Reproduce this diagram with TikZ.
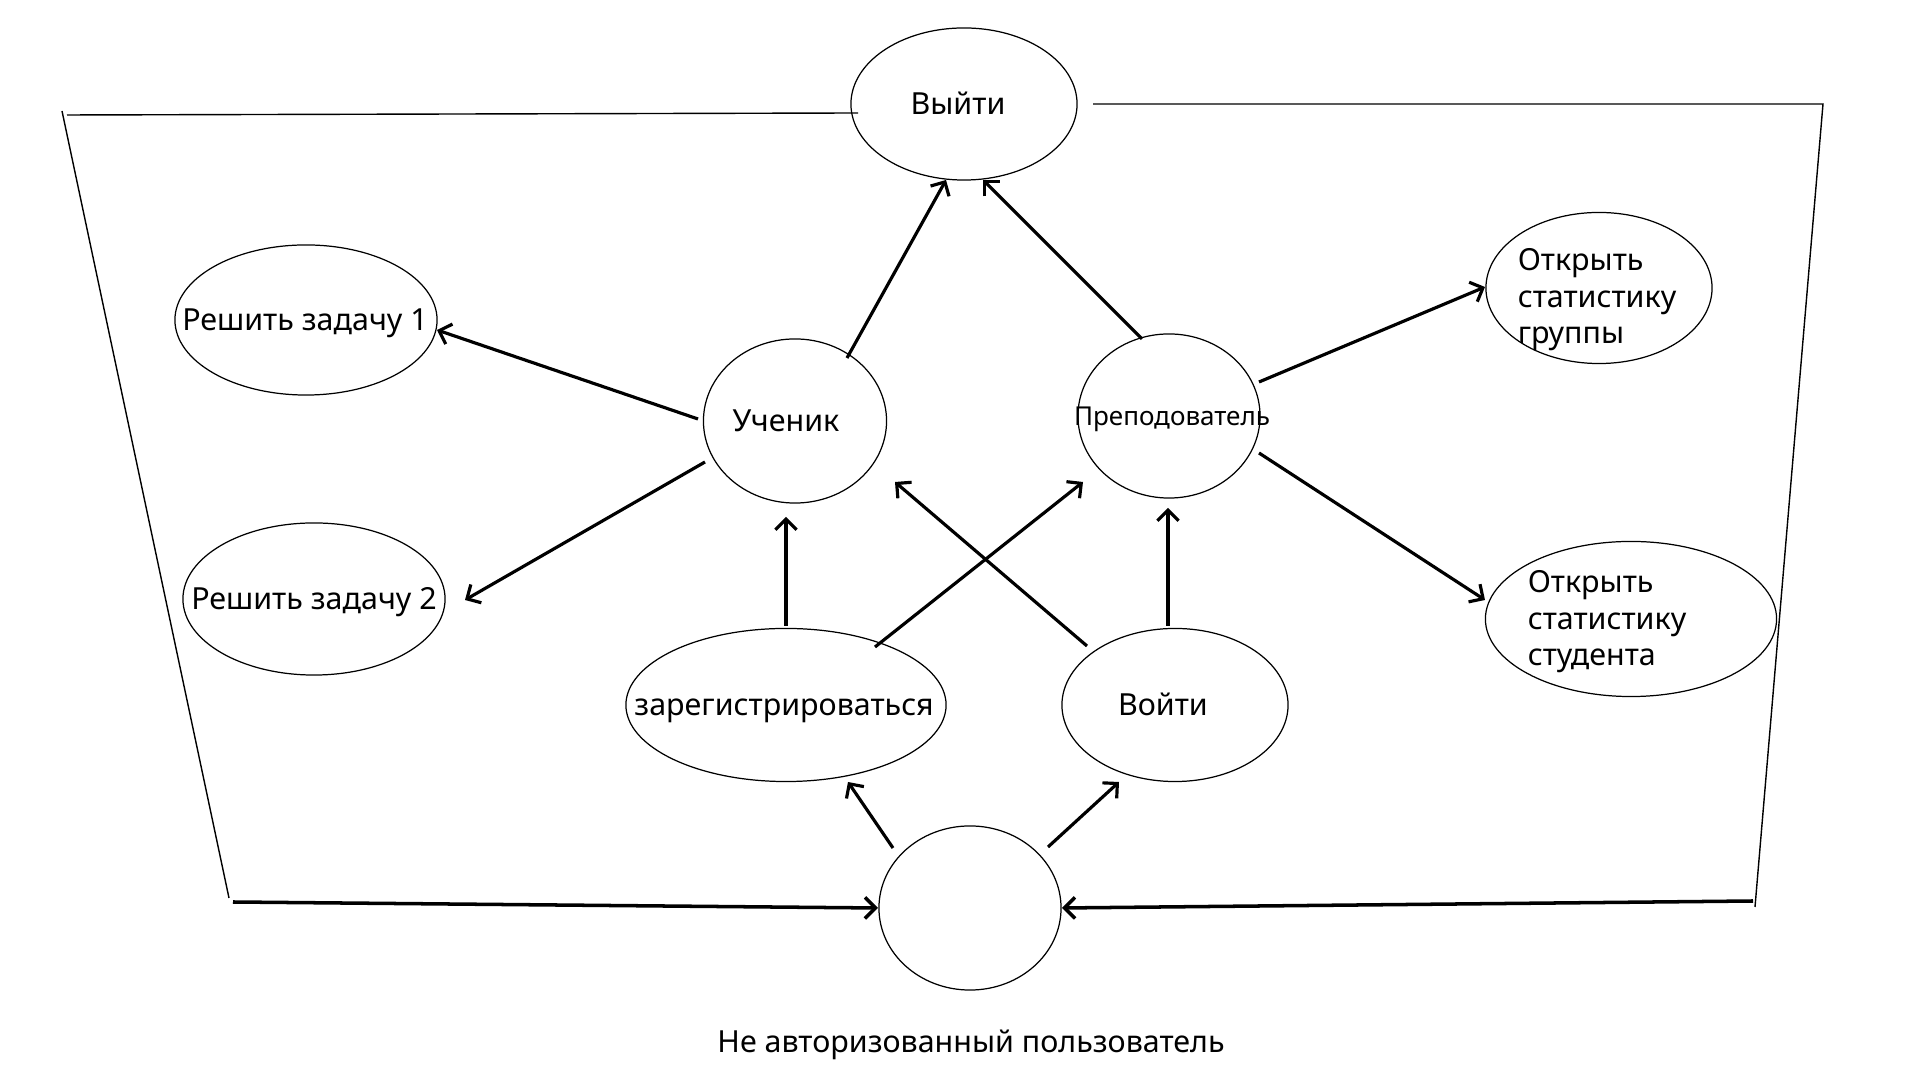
\documentclass[tikz,border=0pt]{standalone}
\usepackage{fontspec}
\setmainfont{Noto Sans}
\usetikzlibrary{arrows.meta,shapes.geometric,calc}
\begin{document}
\begin{tikzpicture}[x=0.01cm,y=-0.01cm,
  ell/.style 2 args={ellipse, draw, line width=0.35pt, inner sep=0pt, minimum width=#1, minimum height=#2},
  lbl/.style={font=\fontsize{8.65}{10.2}\selectfont, inner sep=0pt, text height=6.2pt, text depth=0pt},
  slbl/.style={font=\fontsize{7.4}{9}\selectfont, inner sep=0pt, text height=5.3pt, text depth=0pt},
  mlbl/.style={font=\fontsize{8.65}{10.4}\selectfont, inner sep=0pt, align=left},
  arr/.style={line width=0.9pt, -{Straight Barb[length=3pt,width=6pt]}},
  framel/.style={line width=0.4pt},
]
\useasboundingbox (0,0) rectangle (1920,1080);

% use cases
\node[ell={2.26cm}{1.52cm}, label={[lbl,name=vyitiT,xshift=-0.06cm]center:Выйти}] (vyiti) at (964,104) {};
\node[ell={2.62cm}{1.50cm}, label={[lbl,name=r1T,xshift=-0.01cm]center:Решить задачу 1}] (r1) at (306,320) {};
\node[ell={2.62cm}{1.52cm}, label={[lbl,name=r2T]center:Решить задачу 2}] (r2) at (314,599) {};
\node[ell={1.83cm}{1.64cm}, label={[lbl,name=uchT,xshift=-0.09cm]center:Ученик}] (uch) at (795,421) {};
\node[ell={1.82cm}{1.64cm}, label={[slbl,name=prepT,xshift=0.03cm]center:Преподователь}] (prep) at (1169,416) {};
\node[ell={2.26cm}{1.51cm}, label={[mlbl,name=grT,yshift=-0.12cm,xshift=-0.02cm]center:Открыть\\статистику\\группы}] (gr) at (1599,288) {};
\node[ell={2.91cm}{1.55cm}, label={[mlbl,name=stT,xshift=-0.24cm,yshift=-0.03cm]center:Открыть\\статистику\\студента}] (st) at (1631,619) {};
\node[ell={3.20cm}{1.53cm}, label={[lbl,name=zarT,xshift=-0.02cm]center:зарегистрироваться}] (zar) at (786,705) {};
\node[ell={2.26cm}{1.53cm}, label={[lbl,name=vojT,xshift=-0.12cm]center:Войти}] (voj) at (1175,705) {};
\node[ell={1.82cm}{1.64cm}] (bot) at (970,908) {};
\node[lbl] (cap) at (971,1042) {Не авторизованный пользователь};

% frame
\coordinate (fTL) at (62,111);
\coordinate (fTLh) at (67,115);
\coordinate (fTLe) at (858,113);
\coordinate (fBL) at (229,898);
\coordinate (fTRs) at (1093,104);
\coordinate (fTR) at (1823,104);
\coordinate (fBR) at (1755,907);
\coordinate (aL) at (233,902);
\coordinate (aR) at (1753,901);
\draw[framel] (fTLh) -- (fTLe);
\draw[framel] (fTL) -- (fBL);
\draw[framel] (fTRs) -- (fTR) -- (fBR);
\draw[arr, line width=1pt] (aL) -- ($(bot)+(-92,0)$);
\draw[arr, line width=1pt] (aR) -- ($(bot)+(92,0)$);

% arrows
\draw[arr] ($(uch)+(52,-63)$) -- ($(vyiti)+(-18,76)$);
\draw[arr] ($(prep)+(-27,-77)$) -- ($(vyiti)+(19,76)$);
\draw[arr] ($(uch)+(-97,-2)$) -- ($(r1)+(131,10)$);
\draw[arr] ($(uch)+(-90,41)$) -- ($(r2)+(151,1)$);
\draw[arr] ($(prep)+(90,-34)$) -- ($(gr)+(-114,-1)$);
\draw[arr] ($(prep)+(90,37)$) -- ($(st)+(-146,-19)$);
\draw[arr] ($(zar)+(0,-79)$) -- ($(uch)+(-9,96)$);
\draw[arr] ($(zar)+(89,-58)$) -- ($(prep)+(-86,66)$);
\draw[arr] ($(voj)+(-88,-59)$) -- ($(uch)+(100,61)$);
\draw[arr] ($(voj)+(-7,-79)$) -- ($(prep)+(-1,92)$);
\draw[arr] ($(bot)+(-77,-60)$) -- ($(zar)+(62,77)$);
\draw[arr] ($(bot)+(78,-61)$) -- ($(voj)+(-56,77)$);
\end{tikzpicture}
\end{document}
